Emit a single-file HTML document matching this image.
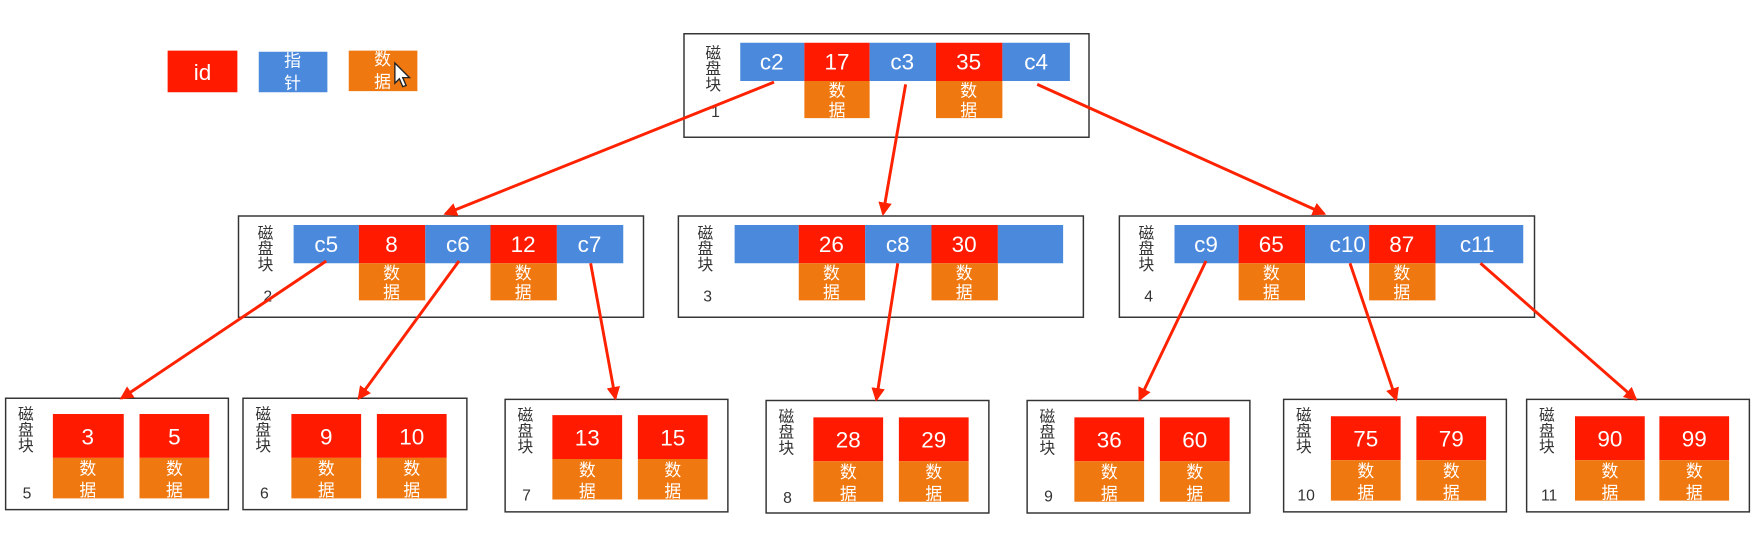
<!DOCTYPE html>
<html><head><meta charset="utf-8"><style>
html,body{margin:0;padding:0;background:#fff;width:1764px;height:544px;overflow:hidden}
svg{display:block}
text{font-family:"Liberation Sans","Noto Sans CJK SC",sans-serif}
.n{fill:#fff;font-size:20px;text-anchor:middle}
.d{fill:#fff;font-size:15px;text-anchor:middle}
.l{fill:#333;font-size:14px;text-anchor:middle}
.bx{fill:#fff;stroke:#333;stroke-width:1.3}
.b{fill:#4a89dc}.r{fill:#ff1a00}.o{fill:#f07810}
.a{stroke:#ff2200;stroke-width:2.6;fill:none;marker-end:url(#ah)}
</style></head><body>
<svg width="1764" height="544" viewBox="0 0 1568 483.56" preserveAspectRatio="none">
<defs><marker id="ah" markerWidth="14" markerHeight="14" refX="10" refY="6" orient="auto" markerUnits="userSpaceOnUse"><path d="M0,0 L12,6 L0,12 Z" fill="#ff2200"/></marker></defs>

<rect class="r" x="149" y="45" width="62" height="37"/><text class="n" x="180" y="71">id</text>
<rect class="b" x="230" y="46" width="61" height="36"/><text class="d" x="260" y="59">指</text><text class="d" x="260" y="79">针</text>
<rect class="o" x="310" y="45" width="61" height="36"/><text class="d" x="340" y="58">数</text><text class="d" x="340" y="78">据</text>
<path d="M351,56 L351,74 L355,70 L358,77 L361,76 L358,69 L364,69 Z" fill="#fff" stroke="#222" stroke-width="1.2"/>

<rect class="bx" x="608" y="30" width="360" height="92"/>
<text class="l" x="634" y="52">磁</text><text class="l" x="634" y="66">盘</text><text class="l" x="634" y="80">块</text><text class="l" x="636" y="104">1</text>
<rect class="b" x="658" y="38" width="57" height="34"/><text class="n" x="686" y="62">c2</text>
<rect class="r" x="715" y="38" width="58" height="34"/><text class="n" x="744" y="62">17</text>
<rect class="b" x="773" y="38" width="59" height="34"/><text class="n" x="802" y="62">c3</text>
<rect class="r" x="832" y="38" width="59" height="34"/><text class="n" x="861" y="62">35</text>
<rect class="b" x="891" y="38" width="60" height="34"/><text class="n" x="921" y="62">c4</text>
<rect class="o" x="715" y="72" width="58" height="33"/><text class="d" x="744" y="86">数</text><text class="d" x="744" y="103">据</text>
<rect class="o" x="832" y="72" width="59" height="33"/><text class="d" x="861" y="86">数</text><text class="d" x="861" y="103">据</text>

<g>
<rect class="bx" x="212" y="192" width="360" height="90"/>
<text class="l" x="236" y="212">磁</text><text class="l" x="236" y="226">盘</text><text class="l" x="236" y="240">块</text><text class="l" x="238" y="268">2</text>
<rect class="b" x="261" y="200" width="58" height="34"/><text class="n" x="290" y="224">c5</text>
<rect class="r" x="319" y="200" width="59" height="34"/><text class="n" x="348" y="224">8</text>
<rect class="b" x="378" y="200" width="58" height="34"/><text class="n" x="407" y="224">c6</text>
<rect class="r" x="436" y="200" width="59" height="34"/><text class="n" x="465" y="224">12</text>
<rect class="b" x="495" y="200" width="59" height="34"/><text class="n" x="524" y="224">c7</text>
<rect class="o" x="319" y="234" width="59" height="33"/><text class="d" x="348" y="248">数</text><text class="d" x="348" y="265">据</text>
<rect class="o" x="436" y="234" width="59" height="33"/><text class="d" x="465" y="248">数</text><text class="d" x="465" y="265">据</text>
</g>
<g>
<rect class="bx" x="603" y="192" width="360" height="90"/>
<text class="l" x="627" y="212">磁</text><text class="l" x="627" y="226">盘</text><text class="l" x="627" y="240">块</text><text class="l" x="629" y="268">3</text>
<rect class="b" x="653" y="200" width="57" height="34"/>
<rect class="r" x="710" y="200" width="59" height="34"/><text class="n" x="739" y="224">26</text>
<rect class="b" x="769" y="200" width="59" height="34"/><text class="n" x="798" y="224">c8</text>
<rect class="r" x="828" y="200" width="59" height="34"/><text class="n" x="857" y="224">30</text>
<rect class="b" x="887" y="200" width="58" height="34"/>
<rect class="o" x="710" y="234" width="59" height="33"/><text class="d" x="739" y="248">数</text><text class="d" x="739" y="265">据</text>
<rect class="o" x="828" y="234" width="59" height="33"/><text class="d" x="857" y="248">数</text><text class="d" x="857" y="265">据</text>
</g>
<g>
<rect class="bx" x="995" y="192" width="369" height="90"/>
<text class="l" x="1019" y="212">磁</text><text class="l" x="1019" y="226">盘</text><text class="l" x="1019" y="240">块</text><text class="l" x="1021" y="268">4</text>
<rect class="b" x="1044" y="200" width="57" height="34"/><text class="n" x="1072" y="224">c9</text>
<rect class="r" x="1101" y="200" width="59" height="34"/><text class="n" x="1130" y="224">65</text>
<rect class="b" x="1160" y="200" width="57" height="34"/><text class="n" x="1198" y="224">c10</text>
<rect class="r" x="1217" y="200" width="59" height="34"/><text class="n" x="1246" y="224">87</text>
<rect class="b" x="1276" y="200" width="78" height="34"/><text class="n" x="1313" y="224">c11</text>
<rect class="o" x="1101" y="234" width="59" height="33"/><text class="d" x="1130" y="248">数</text><text class="d" x="1130" y="265">据</text>
<rect class="o" x="1217" y="234" width="59" height="33"/><text class="d" x="1246" y="248">数</text><text class="d" x="1246" y="265">据</text>
</g>

<g transform="translate(5,354)">
<rect class="bx" x="0" y="0" width="198" height="99"/>
<text class="l" x="18" y="19">磁</text><text class="l" x="18" y="33">盘</text><text class="l" x="18" y="47">块</text><text class="l" x="19" y="89">5</text>
<rect class="r" x="42" y="14" width="63" height="39"/><text class="n" x="73" y="41">3</text>
<rect class="o" x="42" y="53" width="63" height="36"/><text class="d" x="73" y="68">数</text><text class="d" x="73" y="87">据</text>
<rect class="r" x="119" y="14" width="62" height="39"/><text class="n" x="150" y="41">5</text>
<rect class="o" x="119" y="53" width="62" height="36"/><text class="d" x="150" y="68">数</text><text class="d" x="150" y="87">据</text>
</g>
<g transform="translate(216,354)">
<rect class="bx" x="0" y="0" width="199" height="99"/>
<text class="l" x="18" y="19">磁</text><text class="l" x="18" y="33">盘</text><text class="l" x="18" y="47">块</text><text class="l" x="19" y="89">6</text>
<rect class="r" x="43" y="14" width="62" height="39"/><text class="n" x="74" y="41">9</text>
<rect class="o" x="43" y="53" width="62" height="36"/><text class="d" x="74" y="68">数</text><text class="d" x="74" y="87">据</text>
<rect class="r" x="119" y="14" width="62" height="39"/><text class="n" x="150" y="41">10</text>
<rect class="o" x="119" y="53" width="62" height="36"/><text class="d" x="150" y="68">数</text><text class="d" x="150" y="87">据</text>
</g>
<g transform="translate(449,355)">
<rect class="bx" x="0" y="0" width="198" height="100"/>
<text class="l" x="18" y="19">磁</text><text class="l" x="18" y="33">盘</text><text class="l" x="18" y="47">块</text><text class="l" x="19" y="90">7</text>
<rect class="r" x="42" y="14" width="62" height="39"/><text class="n" x="73" y="41">13</text>
<rect class="o" x="42" y="53" width="62" height="36"/><text class="d" x="73" y="68">数</text><text class="d" x="73" y="87">据</text>
<rect class="r" x="118" y="14" width="62" height="39"/><text class="n" x="149" y="41">15</text>
<rect class="o" x="118" y="53" width="62" height="36"/><text class="d" x="149" y="68">数</text><text class="d" x="149" y="87">据</text>
</g>
<g transform="translate(681,356)">
<rect class="bx" x="0" y="0" width="198" height="100"/>
<text class="l" x="18" y="19">磁</text><text class="l" x="18" y="33">盘</text><text class="l" x="18" y="47">块</text><text class="l" x="19" y="91">8</text>
<rect class="r" x="42" y="15" width="62" height="39"/><text class="n" x="73" y="42">28</text>
<rect class="o" x="42" y="54" width="62" height="36"/><text class="d" x="73" y="69">数</text><text class="d" x="73" y="88">据</text>
<rect class="r" x="118" y="15" width="62" height="39"/><text class="n" x="149" y="42">29</text>
<rect class="o" x="118" y="54" width="62" height="36"/><text class="d" x="149" y="69">数</text><text class="d" x="149" y="88">据</text>
</g>
<g transform="translate(913,356)">
<rect class="bx" x="0" y="0" width="198" height="100"/>
<text class="l" x="18" y="19">磁</text><text class="l" x="18" y="33">盘</text><text class="l" x="18" y="47">块</text><text class="l" x="19" y="90">9</text>
<rect class="r" x="42" y="15" width="62" height="39"/><text class="n" x="73" y="42">36</text>
<rect class="o" x="42" y="54" width="62" height="36"/><text class="d" x="73" y="69">数</text><text class="d" x="73" y="88">据</text>
<rect class="r" x="118" y="15" width="62" height="39"/><text class="n" x="149" y="42">60</text>
<rect class="o" x="118" y="54" width="62" height="36"/><text class="d" x="149" y="69">数</text><text class="d" x="149" y="88">据</text>
</g>
<g transform="translate(1141,355)">
<rect class="bx" x="0" y="0" width="198" height="100"/>
<text class="l" x="18" y="19">磁</text><text class="l" x="18" y="33">盘</text><text class="l" x="18" y="47">块</text><text class="l" x="20" y="90">10</text>
<rect class="r" x="42" y="15" width="62" height="39"/><text class="n" x="73" y="42">75</text>
<rect class="o" x="42" y="54" width="62" height="36"/><text class="d" x="73" y="69">数</text><text class="d" x="73" y="88">据</text>
<rect class="r" x="118" y="15" width="62" height="39"/><text class="n" x="149" y="42">79</text>
<rect class="o" x="118" y="54" width="62" height="36"/><text class="d" x="149" y="69">数</text><text class="d" x="149" y="88">据</text>
</g>
<g transform="translate(1357,355)">
<rect class="bx" x="0" y="0" width="198" height="100"/>
<text class="l" x="18" y="19">磁</text><text class="l" x="18" y="33">盘</text><text class="l" x="18" y="47">块</text><text class="l" x="20" y="90">11</text>
<rect class="r" x="43" y="15" width="62" height="39"/><text class="n" x="74" y="42">90</text>
<rect class="o" x="43" y="54" width="62" height="36"/><text class="d" x="74" y="69">数</text><text class="d" x="74" y="88">据</text>
<rect class="r" x="118" y="15" width="62" height="39"/><text class="n" x="149" y="42">99</text>
<rect class="o" x="118" y="54" width="62" height="36"/><text class="d" x="149" y="69">数</text><text class="d" x="149" y="88">据</text>
</g>

<line class="a" x1="688" y1="73" x2="396" y2="190"/>
<line class="a" x1="805" y1="75" x2="785" y2="190"/>
<line class="a" x1="922" y1="75" x2="1177" y2="190"/>
<line class="a" x1="290" y1="232" x2="108" y2="354"/>
<line class="a" x1="408" y1="232" x2="319" y2="354"/>
<line class="a" x1="525" y1="234" x2="547" y2="354"/>
<line class="a" x1="798" y1="234" x2="779" y2="355"/>
<line class="a" x1="1072" y1="232" x2="1013" y2="355"/>
<line class="a" x1="1200" y1="234" x2="1241" y2="355"/>
<line class="a" x1="1316" y1="234" x2="1454" y2="355"/>
</svg>
</body></html>
